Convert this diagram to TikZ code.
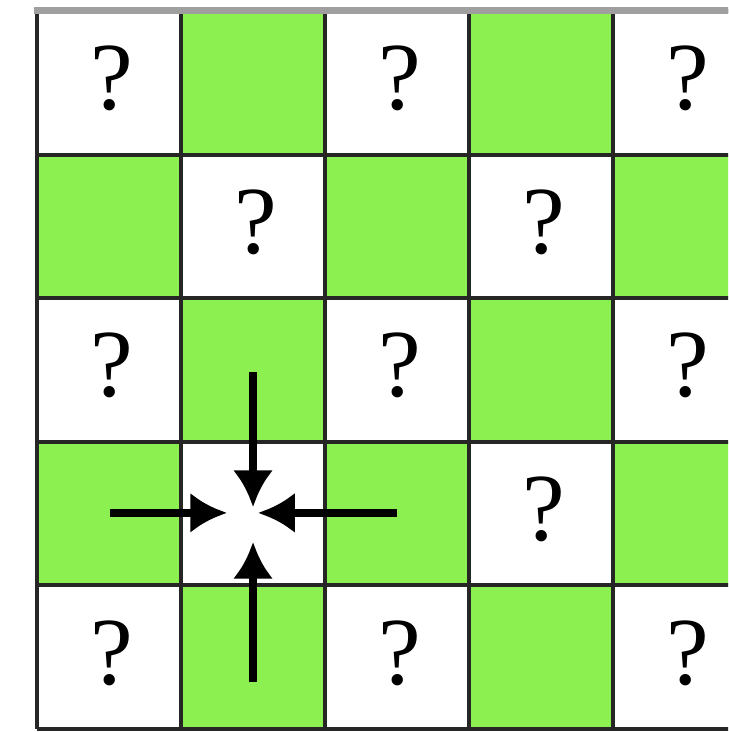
\documentclass[tikz,border=0pt]{standalone}
\usepackage{fontspec}
\setmainfont{Liberation Serif}
\usetikzlibrary{arrows.meta}
\definecolor{cellgreen}{RGB}{140,240,80}
\begin{document}
\begin{tikzpicture}[x=2cm,y=1.994cm,
	gridline/.style={black!85,line width=1.5pt},
	qmark/.style={inner sep=0pt,font=\fontsize{38}{38}\selectfont},
	pusharrow/.style={line width=3.2pt,-{Latex[length=14.5pt,width=16pt]}}]
		\useasboundingbox (-0.257,-0.021) rectangle (4.799,5.077);
		\clip (-0.257,-0.021) rectangle (4.799,5.077);

		% green cells
		\foreach \x/\y in {1/4,3/4,0/3,2/3,4/3,1/2,3/2,0/1,2/1,4/1,1/0,3/0}
			\fill[cellgreen] (\x,\y) rectangle ++(1,1);

		% grid
		\foreach \i in {0,...,5} {
			\draw[gridline] (\i,0) -- (\i,5);
			\draw[gridline] (0,\i) -- (5,\i);
		}
		\draw[gray!75,line width=2.8pt] (-0.02,5.003) -- (5,5.003);

		% unknown cells
		\foreach \x/\y in {0/4,2/4,4/4,1/3,3/3,0/2,2/2,4/2,3/1,0/0,2/0,4/0}
			\node[qmark] (q-\x-\y) at (\x+0.52,\y+0.53) {?};

		% neighbours pointing into the centre cell
		\coordinate (from-n) at (1.5,2.486);
		\coordinate (tip-n) at (1.5,1.546);
		\coordinate (from-s) at (1.5,0.327);
		\coordinate (tip-s) at (1.5,1.302);
		\coordinate (from-w) at (0.507,1.505);
		\coordinate (tip-w) at (1.319,1.505);
		\coordinate (from-e) at (2.5,1.505);
		\coordinate (tip-e) at (1.535,1.505);

		\draw[pusharrow] (from-n) -- (tip-n);
		\draw[pusharrow] (from-s) -- (tip-s);
		\draw[pusharrow] (from-w) -- (tip-w);
		\draw[pusharrow] (from-e) -- (tip-e);

\end{tikzpicture}
\end{document}
